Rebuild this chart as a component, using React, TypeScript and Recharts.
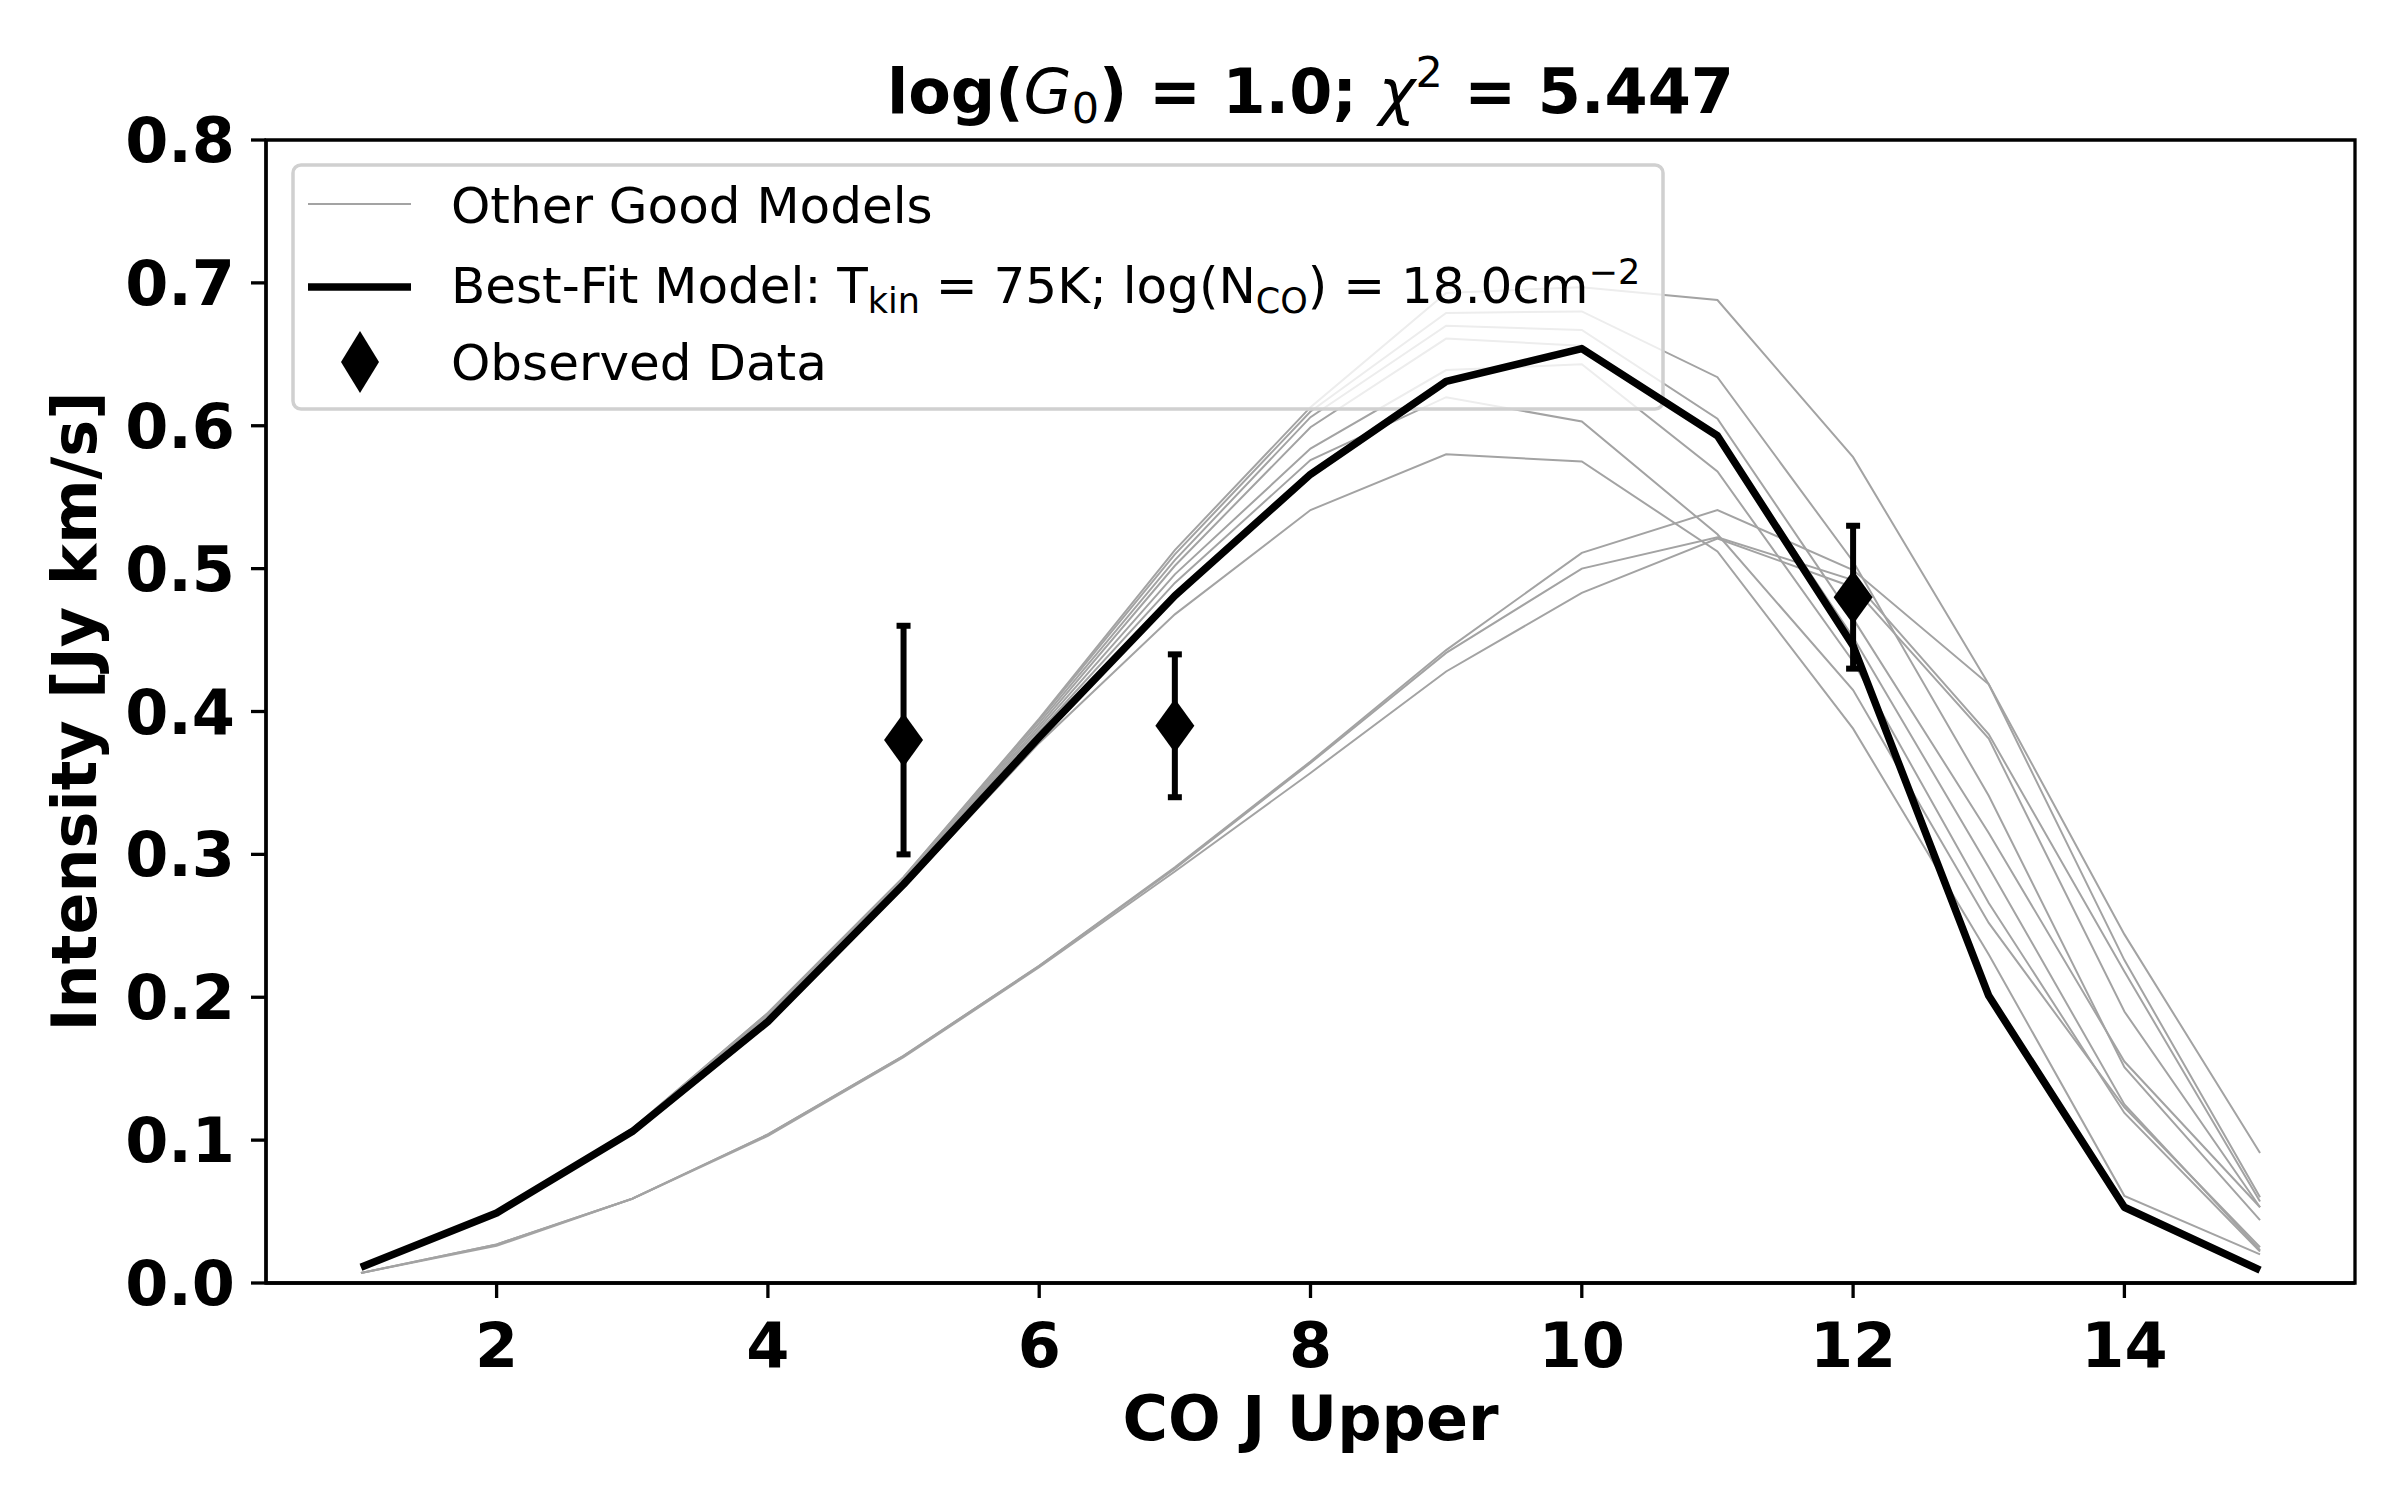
import {
  ComposedChart,
  Line,
  Scatter,
  ErrorBar,
  XAxis,
  YAxis,
  ReferenceArea,
  Legend,
  Label,
} from "recharts";

const FONT = '"DejaVu Sans", "Liberation Sans", sans-serif';

// CO rotational ladder (upper J level)
const J_UPPER = [1, 2, 3, 4, 5, 6, 7, 8, 9, 10, 11, 12, 13, 14, 15];

// best-fit model intensities [Jy km/s]
const BEST_FIT = [
  0.011, 0.049, 0.106, 0.183, 0.279, 0.382, 0.481, 0.566, 0.631, 0.654, 0.593,
  0.446, 0.201, 0.053, 0.009,
];

// other good models (thin grey lines)
const OTHER_1 = [
  0.012, 0.049, 0.108, 0.189, 0.284, 0.395, 0.513, 0.613, 0.693, 0.697, 0.688,
  0.578, 0.419, 0.244, 0.091,
];
const OTHER_2 = [
  0.012, 0.049, 0.108, 0.189, 0.284, 0.394, 0.51, 0.61, 0.679, 0.68, 0.634,
  0.505, 0.341, 0.151, 0.044,
];
const OTHER_3 = [
  0.012, 0.049, 0.107, 0.188, 0.283, 0.392, 0.506, 0.606, 0.67, 0.667, 0.605,
  0.465, 0.315, 0.155, 0.053,
];
const OTHER_4 = [
  0.012, 0.049, 0.107, 0.188, 0.282, 0.39, 0.502, 0.599, 0.661, 0.656, 0.593,
  0.452, 0.291, 0.125, 0.023,
];
const OTHER_5 = [
  0.012, 0.049, 0.107, 0.187, 0.281, 0.388, 0.496, 0.584, 0.639, 0.643, 0.568,
  0.435, 0.266, 0.119, 0.022,
];
const OTHER_6 = [
  0.012, 0.049, 0.106, 0.186, 0.28, 0.386, 0.49, 0.576, 0.62, 0.603, 0.524,
  0.415, 0.252, 0.123, 0.025,
];
const OTHER_7 = [
  0.011, 0.048, 0.105, 0.184, 0.277, 0.378, 0.468, 0.541, 0.58, 0.575, 0.512,
  0.388, 0.23, 0.061, 0.02,
];
const OTHER_8 = [
  0.007, 0.027, 0.059, 0.104, 0.159, 0.222, 0.291, 0.365, 0.443, 0.511, 0.541,
  0.499, 0.419, 0.226, 0.06,
];
const OTHER_9 = [
  0.007, 0.027, 0.059, 0.104, 0.159, 0.222, 0.29, 0.364, 0.441, 0.5, 0.522,
  0.492, 0.384, 0.218, 0.057,
];
const OTHER_10 = [
  0.007, 0.026, 0.059, 0.103, 0.158, 0.221, 0.288, 0.357, 0.428, 0.483, 0.521,
  0.487, 0.381, 0.19, 0.053,
];
const OTHER_MODELS = [
  OTHER_1, OTHER_2, OTHER_3, OTHER_4, OTHER_5,
  OTHER_6, OTHER_7, OTHER_8, OTHER_9, OTHER_10,
];

// observed fluxes with 1-sigma errors
const OBS_J = [5, 7, 12];
const OBS_INTENSITY = [0.38, 0.39, 0.48];
const OBS_ERROR = [0.08, 0.05, 0.05];

const X_TICKS = [2, 4, 6, 8, 10, 12, 14];
const Y_TICKS = [0, 0.1, 0.2, 0.3, 0.4, 0.5, 0.6, 0.7, 0.8];
const X_DOMAIN: [number, number] = [0.3, 15.7];
const Y_DOMAIN: [number, number] = [0, 0.8];

// page geometry (px)
const W = 2400;
const H = 1500;
const PLOT = { left: 266, top: 140, right: 2355, bottom: 1283 };
const Y_AXIS_W = 250;
const X_AXIS_H = 100;
const LEGEND_BOX = { left: 293, top: 165, right: 1663, bottom: 409 };

const GREY = "#a3a3a3";
const SPINE = 3.3;

const modelRows = J_UPPER.map((j, i) => {
  const row: Record<string, number> = { j, best: BEST_FIT[i] };
  OTHER_MODELS.forEach((m, k) => {
    row[`m${k}`] = m[i];
  });
  return row;
});

const obsRows = OBS_J.map((j, i) => ({
  j,
  intensity: OBS_INTENSITY[i],
  err: OBS_ERROR[i],
}));

// pixel -> data, used only to place the legend frame
const plotW = PLOT.right - PLOT.left;
const plotH = PLOT.bottom - PLOT.top;
const pxToX = (px: number) =>
  X_DOMAIN[0] + ((px - PLOT.left) / plotW) * (X_DOMAIN[1] - X_DOMAIN[0]);
const pxToY = (py: number) =>
  Y_DOMAIN[1] - ((py - PLOT.top) / plotH) * (Y_DOMAIN[1] - Y_DOMAIN[0]);

const tickStyle = { fontFamily: FONT, fontSize: 62, fontWeight: "bold", fill: "#000" };

function Diamond(props: any) {
  const { cx, cy } = props;
  if (cx == null || cy == null) return null;
  return (
    <polygon
      points={`${cx},${cy - 27} ${cx + 19.5},${cy} ${cx},${cy + 27} ${cx - 19.5},${cy}`}
      fill="#000"
    />
  );
}

function LegendContent() {
  const w = LEGEND_BOX.right - LEGEND_BOX.left;
  const h = LEGEND_BOX.bottom - LEGEND_BOX.top;
  const txt = { fontFamily: FONT, fontSize: 50, fill: "#000" };
  return (
    <svg width={w} height={h} style={{ display: "block", overflow: "visible" }}>
      <line x1={15} x2={118} y1={39} y2={39} stroke={GREY} strokeWidth={2} />
      <text x={158} y={58} {...txt}>Other Good Models</text>
      <line x1={15} x2={118} y1={122} y2={122} stroke="#000" strokeWidth={7.5} />
      <text x={158} y={138} {...txt}>
        Best-Fit Model: T
        <tspan fontSize={35} dy={10}>kin</tspan>
        <tspan dy={-10}> = 75K; log(N</tspan>
        <tspan fontSize={35} dy={10}>CO</tspan>
        <tspan dy={-10}>) = 18.0cm</tspan>
        <tspan fontSize={35} dy={-19}>−2</tspan>
      </text>
      <polygon points="67,166 86,197 67,228 48,197" fill="#000" />
      <text x={158} y={215} {...txt}>Observed Data</text>
    </svg>
  );
}

const cx = (PLOT.left + PLOT.right) / 2;
const cy = (PLOT.top + PLOT.bottom) / 2;

function TitleLabel() {
  return (
    <text x={cx} y={113} textAnchor="middle" fontFamily={FONT} fontSize={62} fontWeight="bold" fill="#000">
      log(
      <tspan fontStyle="italic" fontWeight="normal">G</tspan>
      <tspan fontWeight="normal" fontSize={43} dy={10}>0</tspan>
      <tspan dy={-10}>) = 1.0; </tspan>
      <tspan fontStyle="italic" fontWeight="normal">χ</tspan>
      <tspan fontWeight="normal" fontSize={43} dy={-26}>2</tspan>
      <tspan dy={26}> = 5.447</tspan>
    </text>
  );
}

function XTitle() {
  return (
    <text x={cx} y={1440} textAnchor="middle" fontFamily={FONT} fontSize={62} fontWeight="bold" fill="#000">
      CO J Upper
    </text>
  );
}

function YTitle() {
  return (
    <text
      x={96}
      y={cy}
      transform={`rotate(-90, 96, ${cy})`}
      textAnchor="middle"
      fontFamily={FONT}
      fontSize={62}
      fontWeight="bold"
      fill="#000"
    >
      Intensity [Jy km/s]
    </text>
  );
}

export default function App() {
  return (
    <div style={{ width: W, height: H, background: "#fff" }}>
      <style>{"body{margin:0;background:#fff}"}</style>
      <ComposedChart
        width={W}
        height={H}
        data={modelRows}
        margin={{
          top: PLOT.top,
          right: W - PLOT.right,
          bottom: H - PLOT.bottom - X_AXIS_H,
          left: PLOT.left - Y_AXIS_W,
        }}
      >
        <XAxis
          dataKey="j"
          type="number"
          domain={X_DOMAIN}
          ticks={X_TICKS}
          interval={0}
          allowDataOverflow
          height={X_AXIS_H}
          tick={tickStyle}
          tickSize={15}
          tickMargin={25}
          axisLine={{ stroke: "#000", strokeWidth: SPINE }}
          tickLine={{ stroke: "#000", strokeWidth: SPINE }}
        >
          <Label content={<XTitle />} />
        </XAxis>
        <YAxis
          type="number"
          domain={Y_DOMAIN}
          ticks={Y_TICKS}
          interval={0}
          allowDataOverflow
          width={Y_AXIS_W}
          tick={tickStyle}
          tickFormatter={(v: number) => v.toFixed(1)}
          tickSize={15}
          tickMargin={16}
          axisLine={{ stroke: "#000", strokeWidth: SPINE }}
          tickLine={{ stroke: "#000", strokeWidth: SPINE }}
        >
          <Label content={<YTitle />} />
          <Label content={<TitleLabel />} />
        </YAxis>

        {/* axes frame (top and right spines) */}
        <ReferenceArea
          x1={X_DOMAIN[0]}
          x2={X_DOMAIN[1]}
          y1={Y_DOMAIN[0]}
          y2={Y_DOMAIN[1]}
          fill="none"
          fillOpacity={0}
          stroke="#000"
          strokeWidth={SPINE}
          strokeOpacity={1}
          ifOverflow="visible"
          zIndex={100}
        />

        {OTHER_MODELS.map((_, k) => (
          <Line
            key={`m${k}`}
            dataKey={`m${k}`}
            stroke={GREY}
            strokeWidth={2}
            dot={false}
            activeDot={false}
            legendType="none"
            isAnimationActive={false}
            zIndex={400}
          />
        ))}

        <ReferenceArea
          x1={pxToX(LEGEND_BOX.left)}
          x2={pxToX(LEGEND_BOX.right)}
          y1={pxToY(LEGEND_BOX.bottom)}
          y2={pxToY(LEGEND_BOX.top)}
          fill="#fff"
          fillOpacity={0.8}
          stroke="#d0d0d0"
          strokeWidth={3.5}
          radius={8}
          ifOverflow="visible"
          zIndex={450}
        />

        <Line
          dataKey="best"
          stroke="#000"
          strokeWidth={7.5}
          strokeLinejoin="round"
          dot={false}
          activeDot={false}
          legendType="none"
          isAnimationActive={false}
          zIndex={500}
        />

        <Scatter
          data={obsRows}
          dataKey="intensity"
          shape={<Diamond />}
          legendType="none"
          isAnimationActive={false}
          zIndex={600}
        >
          <ErrorBar dataKey="err" direction="y" width={7} strokeWidth={6} stroke="#000" />
        </Scatter>

        <Legend
          verticalAlign="middle"
          align="center"
          layout="horizontal"
          content={<LegendContent />}
          wrapperStyle={{
            left: LEGEND_BOX.left,
            top: LEGEND_BOX.top,
            width: LEGEND_BOX.right - LEGEND_BOX.left,
            height: LEGEND_BOX.bottom - LEGEND_BOX.top,
            pointerEvents: "none",
          }}
        />
      </ComposedChart>
    </div>
  );
}
